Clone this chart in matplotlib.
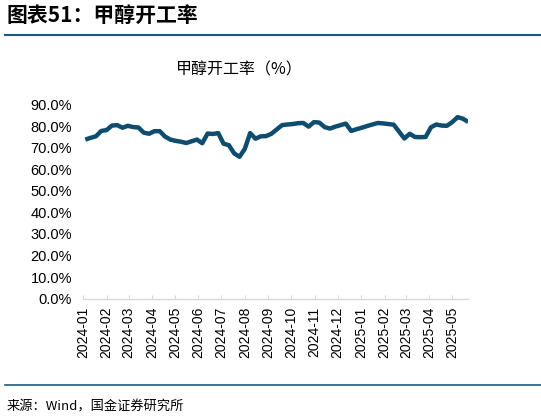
import numpy as np
import pandas as pd
import matplotlib
matplotlib.use("Agg")
import matplotlib.pyplot as plt
import matplotlib.dates as mdates
from matplotlib.ticker import PercentFormatter, MultipleLocator

plt.rcParams['font.family'] = ['Liberation Sans', 'Noto Sans CJK SC', 'DejaVu Sans']

# weekly methanol operating rate (%)
dates = pd.date_range("2024-01-04", periods=73, freq="7D")
rate = [73.8, 74.6, 75.3, 77.8, 78.2, 80.3, 80.5, 79.3, 80.2, 79.6,
        79.4, 77.0, 76.5, 77.7, 77.7, 75.2, 73.8, 73.2, 72.8, 72.2,
        73.0, 73.8, 72.1, 76.6, 76.4, 76.8, 71.9, 71.2, 67.4, 65.8,
        69.5, 76.8, 74.2, 75.3, 75.4, 76.5, 78.5, 80.5, 80.8, 81.0,
        81.4, 81.5, 79.8, 81.9, 81.7, 79.6, 78.9, 79.8, 80.5, 81.2,
        77.8, 78.6, 79.3, 80.1, 80.8, 81.5, 81.3, 81.0, 80.7, 77.5,
        74.3, 76.5, 75.0, 74.9, 75.0, 79.5, 80.8, 80.3, 80.2, 81.9,
        84.2, 83.5, 82.0]

header = "图表51：甲醇开工率"
chart_title = "甲醇开工率（%）"
source = "来源：Wind，国金证券研究所"

line_color = "#0e4c70"
rule_color = "#1a5a80"
cjk = ['Noto Sans CJK SC', 'DejaVu Sans']

fig = plt.figure(figsize=(5.41, 4.17), dpi=100)
ax = fig.add_axes([0.1534, 0.284, 0.712, 0.465])

ax.plot(dates, rate, color=line_color, linewidth=3.2, solid_capstyle='butt')

ax.set_ylim(0, 90)
ax.yaxis.set_major_locator(MultipleLocator(10))
ax.yaxis.set_major_formatter(PercentFormatter(decimals=1))
ax.set_xlim(pd.Timestamp("2024-01-01"), pd.Timestamp("2025-05-22"))
ax.xaxis.set_major_locator(mdates.MonthLocator())
ax.xaxis.set_major_formatter(mdates.DateFormatter("%Y-%m"))

for s in ["top", "right", "left"]:
    ax.spines[s].set_visible(False)
ax.spines["bottom"].set_color("#d9d9d9")
ax.spines["bottom"].set_linewidth(1.0)

ax.tick_params(axis="y", length=0, labelsize=10.5, pad=8, colors="#000000")
ax.tick_params(axis="x", direction="in", length=3, color="#d9d9d9",
               labelsize=10, labelrotation=90, pad=6)

# header, rules and source
fig.text(0.012, 0.962, header, fontsize=15, fontweight="bold",
         family=cjk, ha="left", va="center", style="italic")
fig.add_artist(plt.Line2D([0.01, 1.0], [0.915, 0.915], color=rule_color,
                          linewidth=1.5, transform=fig.transFigure))
fig.text(0.443, 0.832, chart_title, fontsize=11.5, family=cjk,
         ha="center", va="center")
fig.add_artist(plt.Line2D([0.01, 1.0], [0.077, 0.077], color=rule_color,
                          linewidth=1.2, transform=fig.transFigure))
fig.text(0.012, 0.024, source, fontsize=9.5, family=cjk,
         ha="left", va="center")

fig.savefig("out.png", dpi=100)
